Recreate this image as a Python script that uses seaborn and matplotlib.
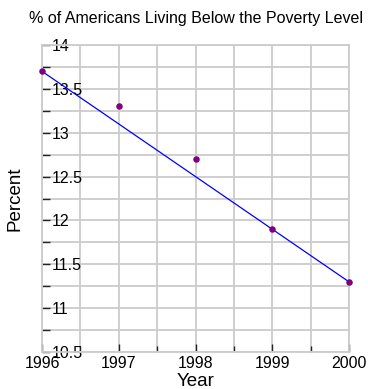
import matplotlib
matplotlib.use("Agg")
import matplotlib.pyplot as plt
from matplotlib.ticker import MultipleLocator
import seaborn as sns
import pandas as pd

# Poverty rate by year
years = [1996, 1997, 1998, 1999, 2000]
percent = [13.7, 13.3, 12.7, 11.9, 11.3]

# Trend line endpoints
trend_years = [1996, 2000]
trend_percent = [13.7, 11.3]

title = "% of Americans Living Below the Poverty Level"
x_label = "Year"
y_label = "Percent"
y_ticks = [10.5, 11, 11.5, 12, 12.5, 13, 13.5, 14]

sns.set_style("white", {"text.color": "black", "axes.labelcolor": "black",
                        "xtick.color": "black", "ytick.color": "black"})
plt.rcParams["font.family"] = ["Liberation Sans", "DejaVu Sans"]

df = pd.DataFrame({"Year": years, "Percent": percent})
trend = pd.DataFrame({"Year": trend_years, "Percent": trend_percent})

fig = plt.figure(figsize=(3.68, 3.89), dpi=100)
ax = fig.add_axes([42 / 368, 37 / 389, 307 / 368, 307 / 389])

sns.lineplot(data=trend, x="Year", y="Percent", color="#0000ff", linewidth=0.9, ax=ax, zorder=3)
sns.scatterplot(data=df, x="Year", y="Percent", color="#800080", s=22, edgecolor="#800080",
                linewidth=0, ax=ax, zorder=4, clip_on=False)

ax.set_xlim(1996, 2000)
ax.set_ylim(10.5, 14)

ax.xaxis.set_major_locator(MultipleLocator(1))
ax.xaxis.set_minor_locator(MultipleLocator(0.5))
ax.yaxis.set_minor_locator(MultipleLocator(0.25))

ax.grid(True, which="both", color="#cccccc", linewidth=1.3)
ax.set_axisbelow(True)
for sp in ax.spines.values():
    sp.set_color("#cccccc")
    sp.set_linewidth(1.3)

ax.tick_params(axis="both", which="both", direction="in", color="#222222", width=1,
               labelcolor="black", bottom=True, left=True, top=False, right=False)
ax.tick_params(axis="y", which="major", length=6, pad=-7, labelsize=11.5)
ax.tick_params(axis="y", which="minor", length=6)
ax.tick_params(axis="x", which="major", length=6, pad=3, labelsize=11.5)
ax.tick_params(axis="x", which="minor", length=4)

ax.set_yticks(y_ticks)
ax.set_yticklabels([f"{v:g}" for v in y_ticks])
for lab in ax.get_yticklabels():
    lab.set_horizontalalignment("left")
ax.set_xticks(years)
ax.set_xticklabels([str(y) for y in years])

ax.set_xlabel(x_label, fontsize=13.5, labelpad=1, color="black")
ax.set_ylabel(y_label, fontsize=13.5, labelpad=10, color="black")
fig.text(196 / 368, 1 - 18 / 389, title, ha="center", va="center", fontsize=11.5, color="black")

fig.savefig("out.png", dpi=100)
